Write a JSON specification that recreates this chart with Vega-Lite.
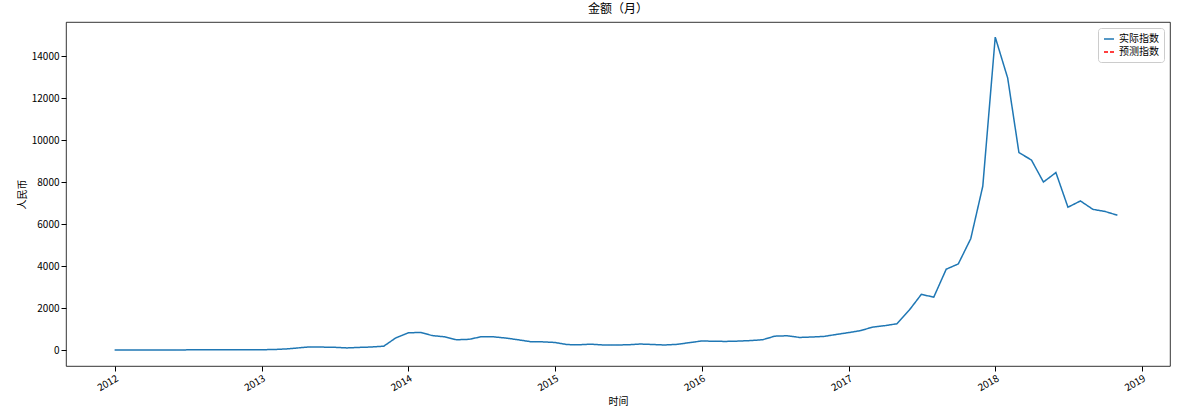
{
  "$schema": "https://vega.github.io/schema/vega-lite/v6.json",
  "width": 1104,
  "height": 344,
  "autosize": "none",
  "padding": {"left": 66, "top": 22, "right": 9, "bottom": 44},
  "config": {
    "font": "Noto Sans CJK SC",
    "view": {"stroke": "black", "strokeWidth": 0.8},
    "axis": {"grid": false, "labelFontSize": 10, "titleFontSize": 10, "titleFontWeight": "normal", "labelColor": "black", "titleColor": "black", "domain": false, "tickColor": "black"}
  },
  "title": {"text": "金额（月）", "fontSize": 12, "fontWeight": "normal", "offset": 6},
  "data": {"values": [
    {"d": "2012-01-01", "v": 6, "s": "实际指数"}, {"d": "2012-02-01", "v": 5, "s": "实际指数"}, {"d": "2012-03-01", "v": 5, "s": "实际指数"}, {"d": "2012-04-01", "v": 5, "s": "实际指数"},
    {"d": "2012-05-01", "v": 5, "s": "实际指数"}, {"d": "2012-06-01", "v": 6, "s": "实际指数"}, {"d": "2012-07-01", "v": 8, "s": "实际指数"}, {"d": "2012-08-01", "v": 11, "s": "实际指数"},
    {"d": "2012-09-01", "v": 11, "s": "实际指数"}, {"d": "2012-10-01", "v": 12, "s": "实际指数"}, {"d": "2012-11-01", "v": 11, "s": "实际指数"}, {"d": "2012-12-01", "v": 13, "s": "实际指数"},
    {"d": "2013-01-01", "v": 16, "s": "实际指数"}, {"d": "2013-02-01", "v": 25, "s": "实际指数"}, {"d": "2013-03-01", "v": 50, "s": "实际指数"}, {"d": "2013-04-01", "v": 100, "s": "实际指数"},
    {"d": "2013-05-01", "v": 150, "s": "实际指数"}, {"d": "2013-06-01", "v": 140, "s": "实际指数"}, {"d": "2013-07-01", "v": 130, "s": "实际指数"}, {"d": "2013-08-01", "v": 100, "s": "实际指数"},
    {"d": "2013-09-01", "v": 125, "s": "实际指数"}, {"d": "2013-10-01", "v": 145, "s": "实际指数"}, {"d": "2013-11-01", "v": 185, "s": "实际指数"}, {"d": "2013-12-01", "v": 580, "s": "实际指数"},
    {"d": "2014-01-01", "v": 820, "s": "实际指数"}, {"d": "2014-02-01", "v": 840, "s": "实际指数"}, {"d": "2014-03-01", "v": 690, "s": "实际指数"}, {"d": "2014-04-01", "v": 630, "s": "实际指数"},
    {"d": "2014-05-01", "v": 490, "s": "实际指数"}, {"d": "2014-06-01", "v": 510, "s": "实际指数"}, {"d": "2014-07-01", "v": 630, "s": "实际指数"}, {"d": "2014-08-01", "v": 630, "s": "实际指数"},
    {"d": "2014-09-01", "v": 570, "s": "实际指数"}, {"d": "2014-10-01", "v": 490, "s": "实际指数"}, {"d": "2014-11-01", "v": 400, "s": "实际指数"}, {"d": "2014-12-01", "v": 390, "s": "实际指数"},
    {"d": "2015-01-01", "v": 360, "s": "实际指数"}, {"d": "2015-02-01", "v": 260, "s": "实际指数"}, {"d": "2015-03-01", "v": 250, "s": "实际指数"}, {"d": "2015-04-01", "v": 280, "s": "实际指数"},
    {"d": "2015-05-01", "v": 240, "s": "实际指数"}, {"d": "2015-06-01", "v": 240, "s": "实际指数"}, {"d": "2015-07-01", "v": 250, "s": "实际指数"}, {"d": "2015-08-01", "v": 285, "s": "实际指数"},
    {"d": "2015-09-01", "v": 265, "s": "实际指数"}, {"d": "2015-10-01", "v": 240, "s": "实际指数"}, {"d": "2015-11-01", "v": 270, "s": "实际指数"}, {"d": "2015-12-01", "v": 350, "s": "实际指数"},
    {"d": "2016-01-01", "v": 430, "s": "实际指数"}, {"d": "2016-02-01", "v": 420, "s": "实际指数"}, {"d": "2016-03-01", "v": 410, "s": "实际指数"}, {"d": "2016-04-01", "v": 425, "s": "实际指数"},
    {"d": "2016-05-01", "v": 450, "s": "实际指数"}, {"d": "2016-06-01", "v": 490, "s": "实际指数"}, {"d": "2016-07-01", "v": 660, "s": "实际指数"}, {"d": "2016-08-01", "v": 680, "s": "实际指数"},
    {"d": "2016-09-01", "v": 600, "s": "实际指数"}, {"d": "2016-10-01", "v": 620, "s": "实际指数"}, {"d": "2016-11-01", "v": 650, "s": "实际指数"}, {"d": "2016-12-01", "v": 740, "s": "实际指数"},
    {"d": "2017-01-01", "v": 830, "s": "实际指数"}, {"d": "2017-02-01", "v": 930, "s": "实际指数"}, {"d": "2017-03-01", "v": 1090, "s": "实际指数"}, {"d": "2017-04-01", "v": 1160, "s": "实际指数"},
    {"d": "2017-05-01", "v": 1250, "s": "实际指数"}, {"d": "2017-06-01", "v": 1900, "s": "实际指数"}, {"d": "2017-07-01", "v": 2650, "s": "实际指数"}, {"d": "2017-08-01", "v": 2520, "s": "实际指数"},
    {"d": "2017-09-01", "v": 3850, "s": "实际指数"}, {"d": "2017-10-01", "v": 4100, "s": "实际指数"}, {"d": "2017-11-01", "v": 5300, "s": "实际指数"}, {"d": "2017-12-01", "v": 7800, "s": "实际指数"},
    {"d": "2018-01-01", "v": 14900, "s": "实际指数"}, {"d": "2018-02-01", "v": 12950, "s": "实际指数"}, {"d": "2018-03-01", "v": 9400, "s": "实际指数"}, {"d": "2018-04-01", "v": 9050, "s": "实际指数"},
    {"d": "2018-05-01", "v": 8000, "s": "实际指数"}, {"d": "2018-06-01", "v": 8450, "s": "实际指数"}, {"d": "2018-07-01", "v": 6800, "s": "实际指数"}, {"d": "2018-08-01", "v": 7100, "s": "实际指数"},
    {"d": "2018-09-01", "v": 6700, "s": "实际指数"}, {"d": "2018-10-01", "v": 6600, "s": "实际指数"}, {"d": "2018-11-01", "v": 6420, "s": "实际指数"}
  ]},
  "mark": {"type": "line", "strokeWidth": 1.5},
  "encoding": {
    "x": {"field": "d", "type": "temporal", "title": "时间",
      "scale": {"type": "utc", "domain": ["2011-09-02", "2019-03-12"]},
      "axis": {"format": "%Y", "tickCount": "year", "labelAngle": -30, "labelAlign": "right", "labelBaseline": "top"}},
    "y": {"field": "v", "type": "quantitative", "title": "人民币",
      "scale": {"domain": [-760, 15620], "nice": false, "zero": false},
      "axis": {"values": [0, 2000, 4000, 6000, 8000, 10000, 12000, 14000], "format": "d"}},
    "color": {"field": "s", "type": "nominal", "title": null,
      "scale": {"domain": ["实际指数", "预测指数"], "range": ["#1f77b4", "red"]},
      "legend": {"orient": "top-right", "symbolType": "stroke", "labelFontSize": 10, "strokeColor": "#cccccc", "fillColor": "white", "padding": 5, "cornerRadius": 3, "offset": 6}},
    "strokeDash": {"field": "s", "type": "nominal",
      "scale": {"domain": ["实际指数", "预测指数"], "range": [[1, 0], [4, 2]]}, "legend": null}
  }
}
